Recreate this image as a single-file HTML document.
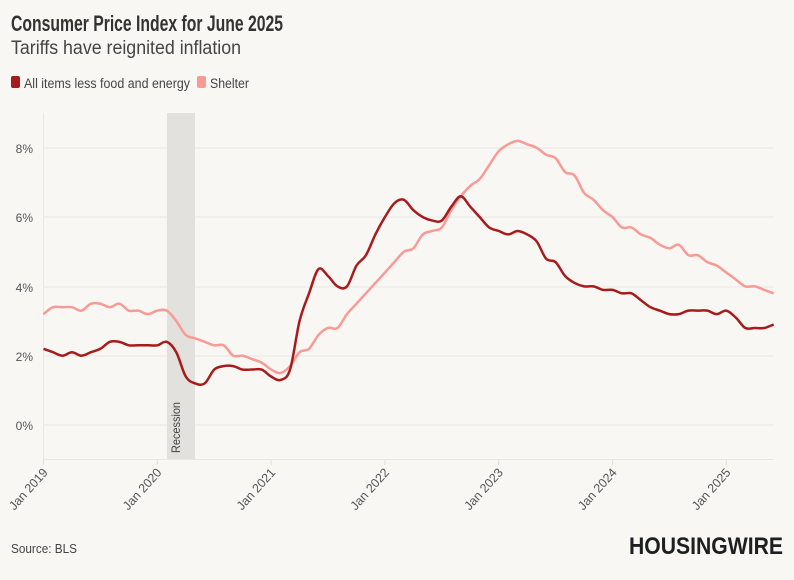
<!DOCTYPE html>
<html><head><meta charset="utf-8"><style>
body{margin:0;background:#f8f7f4;font-family:"Liberation Sans",sans-serif;}
svg text{font-family:"Liberation Sans",sans-serif;}
</style></head><body>
<svg id="s" width="794" height="575" viewBox="0 0 794 575">
<rect width="794" height="575" fill="#f8f7f4"/>
<text x="11" y="31" font-size="22" font-weight="bold" fill="#333" textLength="272" lengthAdjust="spacingAndGlyphs">Consumer Price Index for June 2025</text>
<text x="11" y="54" font-size="19" fill="#444" textLength="230" lengthAdjust="spacingAndGlyphs">Tariffs have reignited inflation</text>
<rect x="11" y="76" width="9" height="12" rx="2" fill="#a81b1b"/>
<text x="24" y="88" font-size="13.5" fill="#444" textLength="166" lengthAdjust="spacingAndGlyphs">All items less food and energy</text>
<rect x="197" y="76" width="9" height="12" rx="2" fill="#f99a94"/>
<text x="210" y="88" font-size="13.5" fill="#444" textLength="39" lengthAdjust="spacingAndGlyphs">Shelter</text>
<g stroke="#e9e7e3" stroke-width="1">
<line x1="43" x2="774" y1="148" y2="148"/><line x1="43" x2="774" y1="217" y2="217"/>
<line x1="43" x2="774" y1="287" y2="287"/><line x1="43" x2="774" y1="356" y2="356"/>
<line x1="43" x2="774" y1="425" y2="425"/><line x1="43" x2="774" y1="459.5" y2="459.5"/>
<line x1="43.5" x2="43.5" y1="113" y2="459"/>
</g>
<g font-size="12" fill="#555" text-anchor="end">
<text x="33" y="153">8%</text><text x="33" y="222">6%</text><text x="33" y="292">4%</text><text x="33" y="361">2%</text><text x="33" y="430">0%</text>
</g>
<rect x="167" y="113" width="28" height="346" fill="#e3e1dd"/>
<text transform="translate(180,453) rotate(-90)" font-size="12" fill="#444" textLength="51" lengthAdjust="spacingAndGlyphs">Recession</text>
<g id="xt" font-size="12.5" fill="#555"></g>
<path id="p2" fill="none" stroke="#f99a94" stroke-width="2.5" stroke-linejoin="round"/>
<path id="p1" fill="none" stroke="#a81b1b" stroke-width="2.5" stroke-linejoin="round"/>
<text x="11" y="553" font-size="13" fill="#444" textLength="66" lengthAdjust="spacingAndGlyphs">Source: BLS</text>
<text x="629" y="554" font-size="24" font-weight="bold" fill="#1d1f21" textLength="154" lengthAdjust="spacingAndGlyphs">HOUSINGWIRE</text>
</svg>
<script>
var core=[2.2,2.1,2.0,2.1,2.0,2.1,2.2,2.4,2.4,2.3,2.3,2.3,2.3,2.4,2.1,1.4,1.2,1.2,1.6,1.7,1.7,1.6,1.6,1.6,1.4,1.3,1.6,3.0,3.8,4.5,4.3,4.0,4.0,4.6,4.9,5.5,6.0,6.4,6.5,6.2,6.0,5.9,5.9,6.3,6.6,6.3,6.0,5.7,5.6,5.5,5.6,5.5,5.3,4.8,4.7,4.3,4.1,4.0,4.0,3.9,3.9,3.8,3.8,3.6,3.4,3.3,3.2,3.2,3.3,3.3,3.3,3.2,3.3,3.1,2.8,2.8,2.8,2.9];
var sh=[3.2,3.4,3.4,3.4,3.3,3.5,3.5,3.4,3.5,3.3,3.3,3.2,3.3,3.3,3.0,2.6,2.5,2.4,2.3,2.3,2.0,2.0,1.9,1.8,1.6,1.5,1.7,2.1,2.2,2.6,2.8,2.8,3.2,3.5,3.8,4.1,4.4,4.7,5.0,5.1,5.5,5.6,5.7,6.2,6.6,6.9,7.1,7.5,7.9,8.1,8.2,8.1,8.0,7.8,7.7,7.3,7.2,6.7,6.5,6.2,6.0,5.7,5.7,5.5,5.4,5.2,5.1,5.2,4.9,4.9,4.7,4.6,4.4,4.2,4.0,4.0,3.9,3.8];
function X(i){return 43.5+i*113.8/12}function Y(v){return 425-v*34.65}
function path(d){var p=d.map(function(v,i){return[X(i),Y(v)]});var s="M"+p[0];
for(var i=0;i<p.length-1;i++){var a=p[i-1]||p[i],b=p[i],c=p[i+1],e=p[i+2]||c;
s+="C"+(b[0]+(c[0]-a[0])/6)+","+(b[1]+(c[1]-a[1])/6)+" "+(c[0]-(e[0]-b[0])/6)+","+(c[1]-(e[1]-b[1])/6)+" "+c;}return s;}
document.getElementById('p1').setAttribute('d',path(core));
document.getElementById('p2').setAttribute('d',path(sh));
var g=document.getElementById('xt'),h="";
for(var y=0;y<7;y++){var x=43.5+y*113.8;
h+='<line x1="'+x+'" x2="'+x+'" y1="460" y2="465" stroke="#e2e0dc"/>';
h+='<text transform="translate('+(x+5)+',473) rotate(-48)" text-anchor="end" textLength="51" lengthAdjust="spacingAndGlyphs">Jan '+(2019+y)+'</text>';}
g.innerHTML=h;
</script>
</body></html>
